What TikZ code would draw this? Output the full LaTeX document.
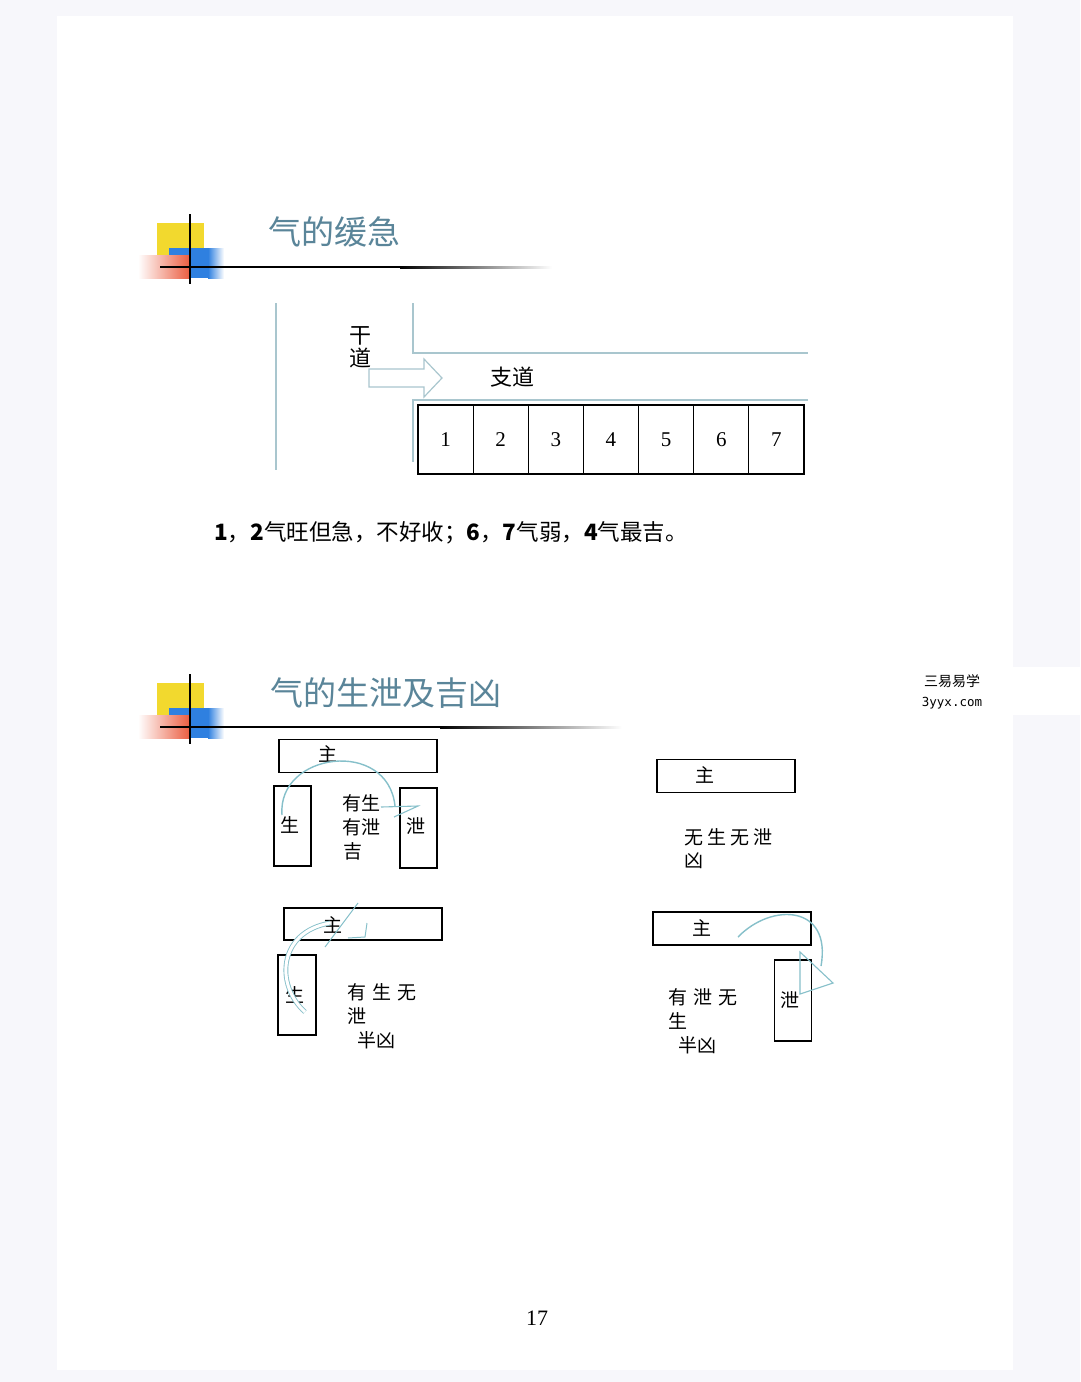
\documentclass[tikz,border=0pt]{standalone}
\usepackage{fontspec}
\newfontfamily\cjk{Noto Sans CJK SC}
\newfontfamily\sernum{Liberation Serif}
\newfontfamily\wmfont{DejaVu Sans Mono}
\usetikzlibrary{calc}
\definecolor{pagebg}{HTML}{F7F7FB}
\definecolor{titlec}{HTML}{5A8599}
\definecolor{roadc}{HTML}{A9C6CE}
\definecolor{flowc}{HTML}{86C0CA}
\definecolor{decoyellow}{HTML}{F2D92E}
\definecolor{decoblue}{HTML}{2F80E0}
\definecolor{decored}{HTML}{E84A2A}
\tikzset{
  titledeco/.pic={
    \fill[decoyellow] (-33,-44) rectangle (14,-12);
    \fill[decoblue] (-21,-19) rectangle (18,11);
    \shade[left color=decoblue, right color=white] (18,-19) rectangle (34,11);
    \shade[left color=white, right color=decored!90] (-52,-12) rectangle (0,11);
    \draw[line width=2.5pt, black] (0,-53) -- (0,16);
  },
  ttl/.style={font=\cjk\fontsize{33}{33}\selectfont, text=titlec, inner sep=0pt, anchor=west},
  road/.style={draw=roadc, line width=1.3pt},
  numbox/.style={draw, line width=1.2pt, minimum width=55.14pt, minimum height=69pt, inner sep=0pt, font=\sernum\fontsize{21}{21}\selectfont},
  room/.style={draw, line width=1.2pt, inner sep=0pt},
  lbl/.style={font=\cjk\fontsize{19}{19}\selectfont, inner sep=0pt},
  lblw/.style={lbl, anchor=west},
  flow/.style={draw=flowc, line width=1.4pt},
}
\begin{document}
\begin{tikzpicture}[x=1pt, y=-1pt]
\useasboundingbox (0,0) rectangle (1080,1382);
\fill[pagebg] (0,0) rectangle (1080,1382);
\fill[white] (57,16) rectangle (1013,1370);
% watermark patch
\fill[white] (860,667) rectangle (1080,715);

% ---------- Title 1 ----------
\pic at (190,267) {titledeco};
\fill[black] (160,265.8) rectangle (400,268.4);
\shade[left color=black, right color=white] (400,266) rectangle (552,268.2);
\draw[line width=2.5pt, black] (190,214) -- (190,284);
\node[ttl] (t1) at (268,232) {气的缓急};

% ---------- Road diagram ----------
\coordinate (mL1) at (276,303); \coordinate (mL2) at (276,470);
\draw[road] (mL1) -- (mL2);
\coordinate (rA) at (413,303); \coordinate (rB) at (413,353); \coordinate (rC) at (808,353);
\draw[road] (rA) -- (rB) -- (rC);
\coordinate (rD) at (808,400); \coordinate (rE) at (413,400); \coordinate (rF) at (413,462);
\draw[road] (rD) -- (rE) -- (rF);
\node[lbl, font=\cjk\fontsize{22}{22}\selectfont] (gan) at (360,336) {干};
\node[lbl, font=\cjk\fontsize{22}{22}\selectfont] (dao) at (360,358) {道};
\draw[road, fill=white, line width=1.2pt] (369,369) -- (424,369) -- (424,359) -- (442,378) -- (424,397) -- (424,387) -- (369,387) -- cycle;
\node[lbl, font=\cjk\fontsize{22}{22}\selectfont] (zhidao) at (512,377) {支道};
\foreach \i in {1,...,7} \node[numbox] (b\i) at ({418+55.14*(\i-0.5)},439.5) {\i};

% ---------- Sentence ----------
\node[anchor=west, inner sep=0pt, font=\cjk\fontsize{22.5}{22.5}\selectfont] (sent) at (214,533)
  {\textbf{1}，\textbf{2}气旺但急，不好收；\textbf{6}，\textbf{7}气弱，\textbf{4}气最吉。};

% ---------- Title 2 ----------
\pic at (190,727) {titledeco};
\fill[black] (160,725.8) rectangle (440,728.4);
\shade[left color=black, right color=white] (440,726) rectangle (622,728.2);
\draw[line width=2.5pt, black] (190,674) -- (190,744);
\node[ttl] (t2) at (270,693) {气的生泄及吉凶};

% watermark
\node[font=\cjk\fontsize{14}{14}\selectfont, inner sep=0pt] (wm1) at (952,681) {三易易学};
\node[font=\wmfont\fontsize{12.5}{12.5}\selectfont, inner sep=0pt] (wm2) at (952,703) {3yyx.com};

% ---------- Diagram 1: 有生有泄 吉 ----------
\node[room, minimum width=158pt, minimum height=33pt] (z1) at (358,756) {};
\node[room, minimum width=37pt, minimum height=80pt] (s1) at (292.5,826) {};
\node[room, minimum width=37pt, minimum height=80pt] (x1) at (418.5,828) {};
\node[lbl] (z1t) at (328,754) {主};
\node[lbl] (s1t) at (290,825) {生};
\node[lbl] (x1t) at (416,826) {泄};
\node[lblw] (d1a) at (342,803) {有生};
\node[lblw] (d1b) at (342,827) {有泄};
\node[lblw] (d1c) at (343,851) {吉};
\coordinate (f1s) at (282,815); \coordinate (f1e) at (395,806);
\draw[flow] (f1s) .. controls (277,752) and (388,738) .. (f1e);
\coordinate (h1a) at (381,807); \coordinate (h1b) at (418,806); \coordinate (h1c) at (394,817);
\draw[flow, line width=1.1pt] (h1a) -- (h1b) -- (h1c);

% ---------- Diagram 2: 无生无泄 凶 ----------
\node[room, minimum width=138pt, minimum height=33pt] (z2) at (726,776) {};
\node[lbl] (z2t) at (705,775) {主};
\node[lblw] (d2a) at (684,837) {无\hspace{4pt}生\hspace{4pt}无\hspace{4pt}泄};
\node[lblw] (d2b) at (684,861) {凶};

% ---------- Diagram 3: 有生无泄 半凶 ----------
\node[room, minimum width=158pt, minimum height=32pt] (z3) at (363,924) {};
\node[room, minimum width=38pt, minimum height=80pt] (s3) at (297,995) {};
\node[lbl] (z3t) at (333,925) {主};
\node[lbl] (s3t) at (295,995) {生};
\node[lblw] (d3a) at (347,992) {有\hspace{6pt}生\hspace{6pt}无};
\node[lblw] (d3b) at (347,1016) {泄};
\node[lblw] (d3c) at (357,1040) {半凶};
\coordinate (f3s) at (305,1012); \coordinate (f3e) at (330,923);
\draw[flow, line width=0.9pt, double=white, double distance=3pt] (f3s) .. controls (275,985) and (278,932) .. (f3e);
\coordinate (h3a) at (358,903); \coordinate (h3b) at (325,947);
\coordinate (h3c) at (367,923); \coordinate (h3d) at (365,937); \coordinate (h3e) at (348,938);
\draw[flow, line width=1pt] (h3a) -- (h3b);
\draw[flow, line width=1pt] (h3c) -- (h3d) -- (h3e);

% ---------- Diagram 4: 有泄无生 半凶 ----------
\node[room, minimum width=158pt, minimum height=33pt] (z4) at (732,928.5) {};
\node[room, minimum width=37pt, minimum height=81pt] (x4) at (793,1000.5) {};
\node[lbl] (z4t) at (702,928) {主};
\node[lbl] (x4t) at (790,1000) {泄};
\node[lblw] (d4a) at (668,997) {有\hspace{6pt}泄\hspace{6pt}无};
\node[lblw] (d4b) at (668,1021) {生};
\node[lblw] (d4c) at (678,1045) {半凶};
\coordinate (f4s) at (738,937); \coordinate (f4e) at (821,966);
\draw[flow] (f4s) .. controls (772,902) and (832,905) .. (f4e);
\coordinate (h4a) at (800,952); \coordinate (h4b) at (833,983); \coordinate (h4c) at (800,994);
\draw[flow, line width=1.1pt] (h4a) -- (h4b) -- (h4c) -- cycle;

% page number
\node[font=\sernum\fontsize{22}{22}\selectfont, inner sep=0pt] (pg) at (537,1318) {17};
\end{tikzpicture}
\end{document}
